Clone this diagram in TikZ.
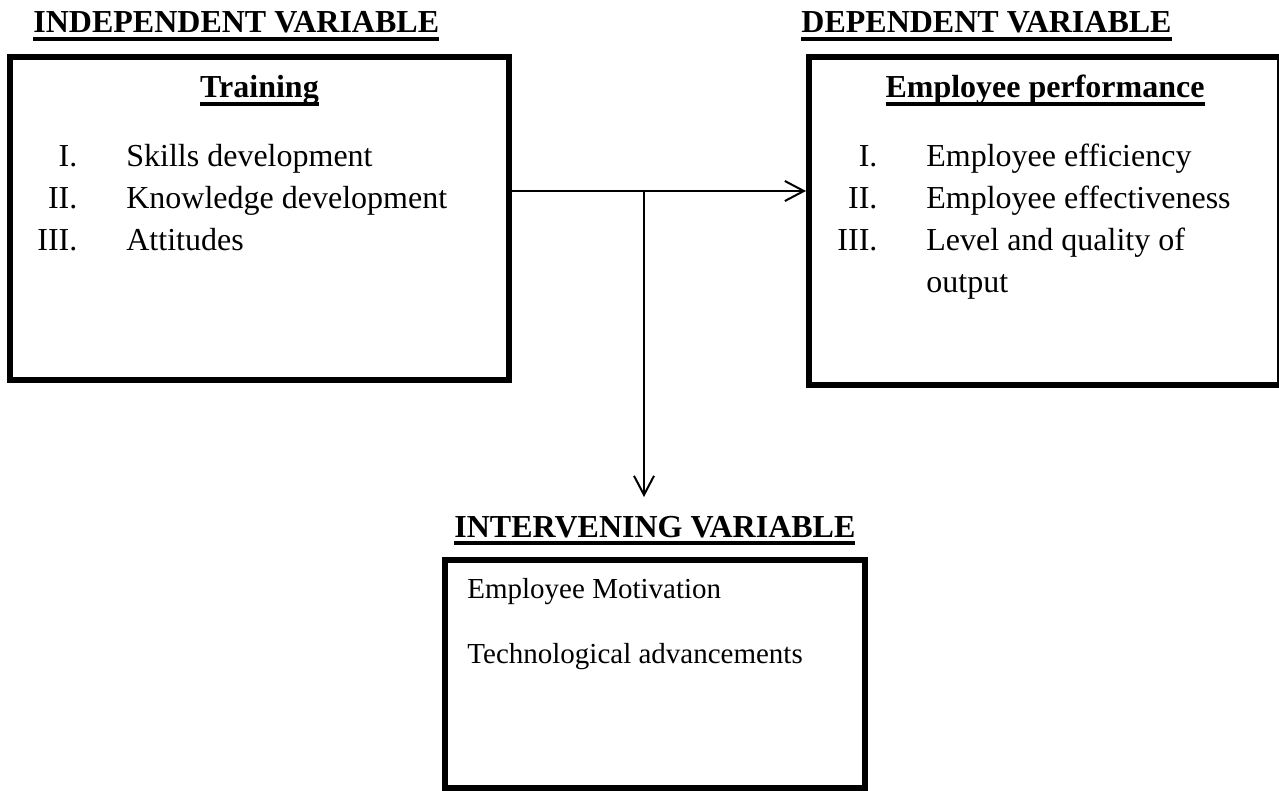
\documentclass[tikz,border=0pt]{standalone}
\usepackage{fontspec}
\setmainfont{Liberation Serif}
\usepackage{tikz}
\usetikzlibrary{
    arrows.meta,
    positioning
}
\newcommand{\undertext}[1]{%
    \setbox0\hbox{#1}\rlap{\rule[-4pt]{\wd0}{2pt}}\box0}
\newcommand{\itm}[2]{\llap{#1\hspace{24.5pt}}#2}
\tikzstyle{box} = [
    rectangle,
    draw=black,
    line width=3pt,
    inner sep=0pt
]
\tikzstyle{head} = [
    font=\fontsize{16}{19}\selectfont\bfseries,
    inner sep=0pt
]
\tikzstyle{txt} = [
    font=\fontsize{16}{21}\selectfont,
    inner sep=0pt
]
\tikzstyle{arrow} = [
    line width=1pt,
    -{Straight Barb[length=9.5pt,width=10pt]}
]
\begin{document}
\begin{tikzpicture}[x=0.5pt, y=-0.5pt]
\useasboundingbox (0,0) rectangle (1279,791);

% Kästen
\node (train) [box, minimum width=249.5pt, minimum height=161.5pt] at (259.5,218.5) {};
\node (perf) [box, minimum width=235.5pt, minimum height=164pt] at (1044.5,221) {};
\node (inter) [box, minimum width=210pt, minimum height=114pt] at (655,674) {};

% Überschriften
\node (indhead) [head, anchor=base west] at (33,33) {\undertext{INDEPENDENT VARIABLE}};
\node (dephead) [head, anchor=base west] at (801,33) {\undertext{DEPENDENT VARIABLE}};
\node (inthead) [head, anchor=base west] at (454,537) {\undertext{INTERVENING VARIABLE}};

\node (traintitle) [head, anchor=base] at (259.5,98) {\undertext{Training}};
\node (perftitle) [head, anchor=base] at (1045,98) {\undertext{Employee performance}};

% Listen
\node (trainlist) [txt, anchor=base west] at (126,167)
    {\begin{tabular}[t]{@{}l@{}}
        \itm{I.}{Skills development}\\
        \itm{II.}{Knowledge development}\\
        \itm{III.}{Attitudes}
    \end{tabular}};
\node (perflist) [txt, anchor=base west] at (926,167)
    {\begin{tabular}[t]{@{}l@{}}
        \itm{I.}{Employee efficiency}\\
        \itm{II.}{Employee effectiveness}\\
        \itm{III.}{Level and quality of}\\
        output
    \end{tabular}};
\node (interlist) [font=\fontsize{14.5}{32.5}\selectfont, inner sep=0pt, anchor=base west] at (467,598)
    {\begin{tabular}[t]{@{}l@{}}
        Employee Motivation\\
        Technological advancements
    \end{tabular}};

% Pfeile
\coordinate (split) at (644,191);
\coordinate (ivtop) at (644,497);
\draw [arrow] (split -| train.east) -- (split -| perf.west);
\draw [arrow] (split) -- (ivtop);

\end{tikzpicture}
\end{document}
